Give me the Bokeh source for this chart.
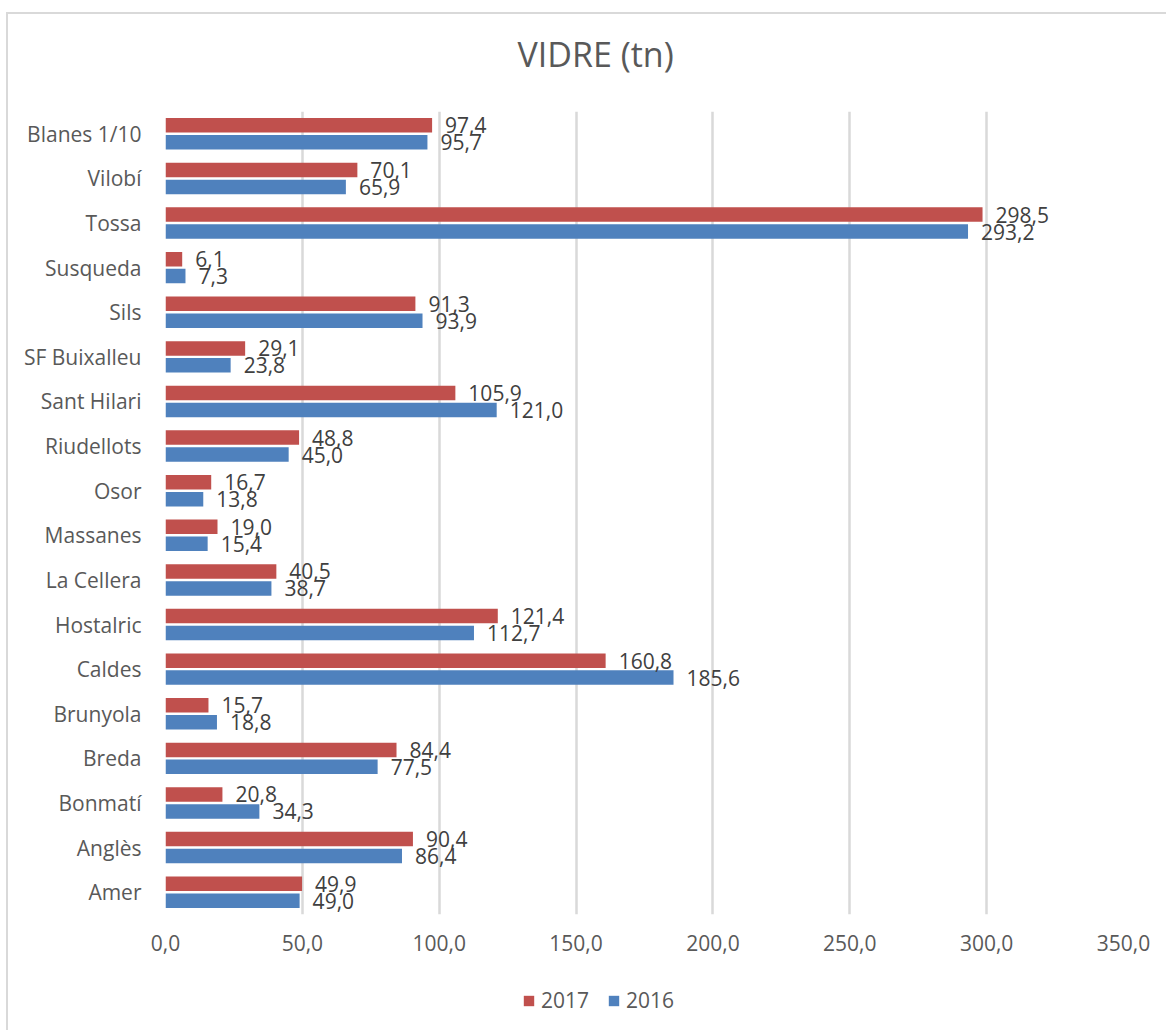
from bokeh.plotting import figure
from bokeh.layouts import column
from bokeh.models import (FactorRange, FixedTicker, Legend, LegendItem,
                          ColumnDataSource, Range1d, LinearAxis)
from bokeh.transform import dodge
from bokeh.core.properties import value
from bokeh.embed import file_html
from bokeh.resources import INLINE

# ---- data (bottom to top) ----
categories = ["Amer", "Anglès", "Bonmatí", "Breda", "Brunyola", "Caldes",
              "Hostalric", "La Cellera", "Massanes", "Osor", "Riudellots",
              "Sant Hilari", "SF Buixalleu", "Sils", "Susqueda", "Tossa",
              "Vilobí", "Blanes 1/10"]
v2017 = [49.9, 90.4, 20.8, 84.4, 15.7, 160.8, 121.4, 40.5, 19.0, 16.7,
         48.8, 105.9, 29.1, 91.3, 6.1, 298.5, 70.1, 97.4]
v2016 = [49.0, 86.4, 34.3, 77.5, 18.8, 185.6, 112.7, 38.7, 15.4, 13.8,
         45.0, 121.0, 23.8, 93.9, 7.3, 293.2, 65.9, 95.7]
series_names = ["2017", "2016"]
x_ticks = [0, 50, 100, 150, 200, 250, 300, 350]
x_tick_labels = ["0,0", "50,0", "100,0", "150,0", "200,0", "250,0", "300,0", "350,0"]

RED = "#C0504D"
BLUE = "#4F81BD"
FONT = "Open Sans"


def fmt(v):
    return f"{v:.1f}".replace(".", ",")


src = ColumnDataSource(dict(
    cat=categories,
    v17=v2017,
    v16=v2016,
    l17=[fmt(v) for v in v2017],
    l16=[fmt(v) for v in v2016],
))

W = 1160
p = figure(width=W, height=952,
           y_range=FactorRange(factors=categories),
           x_range=Range1d(0, 350),
           output_backend="svg", toolbar_location=None,
           min_border_left=157, min_border_right=45,
           min_border_top=97, min_border_bottom=52)

OFF = 0.19
H = 0.325
r17 = p.hbar(y=dodge("cat", OFF, range=p.y_range), right="v17", left=0, height=H,
             source=src, fill_color=RED, line_color=None)
r16 = p.hbar(y=dodge("cat", -OFF, range=p.y_range), right="v16", left=0, height=H,
             source=src, fill_color=BLUE, line_color=None)

for col, lab, off in (("v17", "l17", OFF), ("v16", "l16", -OFF)):
    p.text(x=col, y=dodge("cat", off, range=p.y_range), text=lab, source=src,
           x_offset=13, text_align="left", text_baseline="middle",
           text_font=value(FONT), text_font_size="21px", text_color="#404040")

xax = p.below[0]
yax = p.left[0]

# spacer axis above the frame (invisible tick, empty label) to lift the title
spacer = LinearAxis(ticker=FixedTicker(ticks=[0]), axis_line_color=None,
                    major_tick_line_color=None, minor_tick_line_color=None,
                    major_tick_out=22, major_tick_in=0, minor_tick_out=0,
                    major_label_standoff=0, major_label_overrides={0: ""},
                    major_label_text_font_size="1px")
p.add_layout(spacer, "above")

# title
p.title.text = "VIDRE (tn)"
p.title.align = "left"
p.title.offset = 352
p.title.text_font = FONT
p.title.text_font_size = "34px"
p.title.text_font_style = "normal"
p.title.text_color = "#595959"
p.title.standoff = 26

# axes
xax.ticker = FixedTicker(ticks=x_ticks)
xax.major_label_overrides = {t: l for t, l in zip(x_ticks, x_tick_labels)}
for ax in (xax, yax):
    ax.axis_line_color = None
    ax.major_tick_line_color = None
    ax.minor_tick_line_color = None
    ax.major_tick_out = 0
    ax.major_tick_in = 0
    ax.major_label_text_font = FONT
    ax.major_label_text_font_size = "21px"
    ax.major_label_text_color = "#595959"
xax.major_label_standoff = 20
yax.major_label_standoff = 24

p.xgrid.grid_line_color = "#D9D9D9"
p.xgrid.grid_line_width = 2.5
p.ygrid.grid_line_color = None
p.outline_line_color = None

# ---- legend strip (separate figure under the chart) ----
pl = figure(width=W, height=64, x_range=Range1d(-1, 0), y_range=Range1d(-1, 0),
            output_backend="svg", toolbar_location=None,
            x_axis_type=None, y_axis_type=None,
            min_border_left=0, min_border_right=0, min_border_top=0, min_border_bottom=0)
pl.grid.grid_line_color = None
pl.outline_line_color = None
# legend proxies drawn from the same data, but outside this strip's visible range
g17 = pl.hbar(y="v17", right="v17", height=H, source=src, fill_color=RED, line_color=None)
g16 = pl.hbar(y="v16", right="v16", height=H, source=src, fill_color=BLUE, line_color=None)

legend = Legend(items=[LegendItem(label=series_names[0], renderers=[g17]),
                       LegendItem(label=series_names[1], renderers=[g16])],
                location=(357, 16), orientation="horizontal",
                glyph_width=13, glyph_height=13, label_height=13,
                label_standoff=6, spacing=18, padding=0, margin=0,
                border_line_color=None, background_fill_alpha=0,
                label_text_font=FONT, label_text_font_size="21px",
                label_text_color="#595959")
pl.add_layout(legend, "center")

layout = column(p, pl, spacing=0,
                styles={"margin-left": "6px", "margin-top": "12px",
                        "border-left": "2px solid #D9D9D9",
                        "border-top": "2px solid #D9D9D9"})

open("out.html", "w").write(file_html(layout, INLINE))
